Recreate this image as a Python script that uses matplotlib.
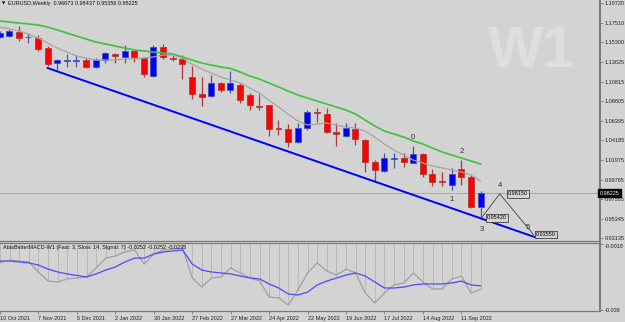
import matplotlib
matplotlib.use("Agg")
import matplotlib.pyplot as plt

# EURUSD weekly candles, 10 Oct 2021 .. 25 Sep 2022
opens = [1.1588, 1.1599, 1.1644, 1.1582, 1.1576, 1.1463, 1.1294, 1.1316, 1.1316, 1.1328,
         1.1249, 1.1328, 1.1396, 1.1362, 1.1429, 1.1350, 1.1147, 1.1475, 1.1350, 1.1339,
         1.1135, 1.0943, 1.0921, 1.1068, 1.0989, 1.1045, 1.0932, 1.0808, 1.0819, 1.0559,
         1.0548, 1.0401, 1.0559, 1.0740, 1.0717, 1.0514, 1.0468, 1.0548, 1.0423, 1.0175,
         1.0073, 1.0214, 1.0220, 1.0163, 1.0265, 1.0039, 0.9960, 0.9915, 1.0096, 1.0005,
         0.96673]
highs = [1.1656, 1.1678, 1.1712, 1.1622, 1.1610, 1.1486, 1.1339, 1.1396, 1.1384, 1.1350,
         1.1350, 1.1418, 1.1407, 1.1497, 1.1441, 1.1362, 1.1497, 1.1509, 1.1384, 1.1384,
         1.1260, 1.1135, 1.1158, 1.1079, 1.1203, 1.1068, 1.0955, 1.0943, 1.0822, 1.0649,
         1.0604, 1.0615, 1.0762, 1.0785, 1.0785, 1.0615, 1.0615, 1.0615, 1.0435, 1.0197,
         1.0276, 1.0276, 1.0276, 1.0355, 1.0276, 1.0096, 1.0062, 1.0107, 1.0197, 1.0028,
         0.98437]
lows = [1.1576, 1.1588, 1.1542, 1.1520, 1.1429, 1.1260, 1.1215, 1.1249, 1.1249, 1.1237,
        1.1237, 1.1294, 1.1294, 1.1294, 1.1305, 1.1135, 1.1135, 1.1339, 1.1316, 1.1113,
        1.0887, 1.0808, 1.0909, 1.0966, 1.0955, 1.0842, 1.0762, 1.0762, 1.0468, 1.0480,
        1.0344, 1.0389, 1.0536, 1.0627, 1.0508, 1.0355, 1.0457, 1.0367, 1.0062, 0.9949,
        1.0062, 1.0107, 1.0118, 1.0160, 1.0005, 0.9903, 0.9903, 0.9858, 0.9915, 0.9650,
        0.95356]
closes = [1.1633, 1.1656, 1.1576, 1.1593, 1.1452, 1.1282, 1.1328, 1.1322, 1.1322, 1.1249,
          1.1328, 1.1407, 1.1373, 1.1429, 1.1362, 1.1169, 1.1475, 1.1362, 1.1339, 1.1282,
          1.0943, 1.0909, 1.1068, 1.0989, 1.1068, 1.0875, 1.0819, 1.0796, 1.0548, 1.0548,
          1.0401, 1.0559, 1.0740, 1.0728, 1.0514, 1.0491, 1.0559, 1.0435, 1.0175, 1.0084,
          1.0220, 1.0220, 1.0175, 1.0265, 1.0039, 0.9949, 0.9949, 1.0039, 1.0005, 0.9667,
          0.98225]

# moving averages drawn on the price chart
ma_slow = [1.1769, 1.1757, 1.1746, 1.1735, 1.1723, 1.1701, 1.1667, 1.1633, 1.1599, 1.1565,
           1.1531, 1.1509, 1.1486, 1.1463, 1.1441, 1.1429, 1.1418, 1.1407, 1.1396, 1.1362,
           1.1328, 1.1294, 1.1271, 1.1249, 1.1232, 1.1192, 1.1147, 1.1113, 1.1068, 1.1023,
           1.0977, 1.0932, 1.0898, 1.0864, 1.0830, 1.0796, 1.0762, 1.0717, 1.0649, 1.0582,
           1.0525, 1.0491, 1.0457, 1.0412, 1.0378, 1.0333, 1.0288, 1.0254, 1.0220, 1.0186,
           1.0152]
ma_fast = [1.1701, 1.1678, 1.1656, 1.1622, 1.1576, 1.1520, 1.1463, 1.1418, 1.1373, 1.1350,
           1.1328, 1.1328, 1.1328, 1.1339, 1.1339, 1.1350, 1.1362, 1.1384, 1.1384, 1.1350,
           1.1282, 1.1226, 1.1181, 1.1135, 1.1102, 1.1068, 1.1011, 1.0955, 1.0875, 1.0796,
           1.0717, 1.0638, 1.0593, 1.0604, 1.0615, 1.0593, 1.0570, 1.0559, 1.0525, 1.0457,
           1.0378, 1.0310, 1.0254, 1.0197, 1.0163, 1.0130, 1.0107, 1.0084, 1.0062, 1.0028,
           0.9960]

# AtasBetterMACD (3, 14, 7)
macd = [-0.0116, -0.0101, -0.0106, -0.0111, -0.0163, -0.0210, -0.0215, -0.0199, -0.0194, -0.0189,
        -0.0142, -0.0091, -0.0080, -0.0059, -0.0049, -0.0122, -0.0070, -0.0049, -0.0044, -0.0039,
        -0.0194, -0.0241, -0.0194, -0.0189, -0.0142, -0.0168, -0.0194, -0.0210, -0.0293, -0.0298,
        -0.0334, -0.0256, -0.0168, -0.0116, -0.0158, -0.0179, -0.0148, -0.0168, -0.0272, -0.0324,
        -0.0272, -0.0230, -0.0220, -0.0168, -0.0215, -0.0251, -0.0251, -0.0199, -0.0184, -0.0272,
        -0.0252]
signal = [-0.0106, -0.0106, -0.0111, -0.0116, -0.0127, -0.0148, -0.0163, -0.0173, -0.0181, -0.0189,
          -0.0173, -0.0153, -0.0137, -0.0111, -0.0091, -0.0091, -0.0070, -0.0059, -0.0054, -0.0049,
          -0.0122, -0.0153, -0.0163, -0.0168, -0.0173, -0.0184, -0.0194, -0.0199, -0.0225, -0.0246,
          -0.0277, -0.0282, -0.0267, -0.0230, -0.0210, -0.0194, -0.0179, -0.0168, -0.0184, -0.0215,
          -0.0246, -0.0246, -0.0241, -0.0230, -0.0225, -0.0225, -0.0225, -0.0220, -0.0210, -0.0230,
          -0.0235]

# channel line and wave count
trend_idx = [5.0, 55.9]
trend_price = [1.1237, 0.9316]
zz_idx = [50.1, 52.0, 55.5]
zz_price = [0.95420, 0.98150, 0.93550]
wave_labels = ["0", "1", "2", "3", "4", "5"]
wave_idx = [43, 47, 48, 50.1, 52.0, 55.5]
wave_price = [1.0355, 0.9858, 1.0197, 0.95420, 0.98150, 0.93550]

price_ticks = [1.19720, 1.17510, 1.15300, 1.13025, 1.10815, 1.08605, 1.06395,
               1.04185, 1.01975, 0.99765, 0.97555, 0.95345, 0.93135]
macd_ticks = [-0.0018, -0.036]
date_idx = [0, 4, 8, 12, 16, 20, 24, 28, 32, 36, 40, 44, 48]
date_labels = ["10 Oct 2021", "7 Nov 2021", "5 Dec 2021", "2 Jan 2022", "30 Jan 2022",
               "27 Feb 2022", "27 Mar 2022", "24 Apr 2022", "22 May 2022", "19 Jun 2022",
               "17 Jul 2022", "14 Aug 2022", "11 Sep 2022"]

BG = "#d3d3d3"
AX = "#7a7a7a"
FONT = "Liberation Sans"
plt.rcParams["font.family"] = [FONT, "DejaVu Sans"]

W, H = 625, 322
fig = plt.figure(figsize=(W / 100, H / 100), dpi=100, facecolor=BG)


def px_axes(x0, y0, x1, y1):
    return fig.add_axes([x0 / W, 1 - y1 / H, (x1 - x0) / W, (y1 - y0) / H], facecolor=BG)


ax = px_axes(0, 0, 600, 241)
ax2 = px_axes(0, 243, 600, 311)
xlim = (0.05, 62.42)
ax.set_xlim(*xlim)
ax2.set_xlim(*xlim)
ax.set_ylim(0.92816, 1.20059)
ax2.set_ylim(-0.03651, -0.00128)

n = len(closes)
idx = list(range(n))

# candles
for i in idx:
    o, h, l, c = opens[i], highs[i], lows[i], closes[i]
    up = c >= o
    body_c = "#0000ff" if up else "#ff0000"
    edge_c = "#4a55a8" if up else "#b03a3a"
    ax.vlines(i, l, h, color=edge_c, lw=0.9, zorder=2)
    ax.bar(i, max(abs(c - o), 0.0008), bottom=min(o, c), width=0.62,
           color=body_c, edgecolor=edge_c, lw=0.6, zorder=3)

ax.plot(idx, ma_slow, color="#3cc23c", lw=1.2, zorder=4)
ax.plot(idx, ma_fast, color="#a4a4a4", lw=0.9, zorder=4)
ax.plot(trend_idx, trend_price, color="#0000ff", lw=1.4, zorder=4)
ax.axhline(closes[-1], color="#a8a8a8", lw=0.7, zorder=1)

ax.plot(zz_idx, zz_price, color="#404040", lw=0.6, zorder=5)
offsets = [(0, 6), (0, -7), (0, 6), (0, -8), (0, 6), (-4, 5)]
for lab, xi, yp, off in zip(wave_labels, wave_idx, wave_price, offsets):
    ax.annotate(lab, (xi, yp), xytext=off, textcoords="offset points",
                ha="center", va="center", fontsize=5.5, color="#303030", zorder=6)
box_off = [(4, 0), (6, 0), (2, 0)]
for xi, yp, off in zip(zz_idx, zz_price, box_off):
    ax.annotate(f"{yp:.5f}", (xi, yp), xytext=off, textcoords="offset points",
                ha="left", va="center", fontsize=4, color="black", zorder=7,
                bbox=dict(boxstyle="square,pad=0.25", fc=BG, ec="#404040", lw=0.6))

# price axis
ax.set_yticks(price_ticks)
ax.set_yticklabels([f"{p:.5f}" for p in price_ticks])
ax.yaxis.tick_right()
ax.tick_params(axis="y", length=2, width=0.6, pad=1.5, labelsize=4, colors=AX, labelcolor="#222222")
ax.set_xticks([])
for s in ["left", "top"]:
    ax.spines[s].set_visible(False)
ax.spines["right"].set_color(AX)
ax.spines["right"].set_linewidth(1.4)
ax.spines["bottom"].set_color(AX)
ax.spines["bottom"].set_linewidth(0.9)

ax.text(1.0, closes[-1], f"{closes[-1]:.5f}", transform=ax.get_yaxis_transform(),
        ha="left", va="center", fontsize=4, color="white", zorder=8, clip_on=False,
        bbox=dict(boxstyle="square,pad=0.3", fc="black", ec="black"))

# MACD panel
ax2.vlines(idx, 0, macd, color="#b4b4b4", lw=0.6, zorder=2)
ax2.plot(idx, macd, color="#a0a0a0", lw=0.9, zorder=3)
ax2.plot(idx, signal, color="#4a4aff", lw=0.9, zorder=4)
ax2.set_yticks(macd_ticks)
ax2.set_yticklabels([f"{v:g}" for v in macd_ticks])
ax2.yaxis.tick_right()
ax2.tick_params(axis="y", length=2, width=0.6, pad=1.5, labelsize=4, colors=AX, labelcolor="#222222")
ytl = ax2.get_yticklabels()
ytl[0].set_va("top")
ax2.set_xticks(date_idx)
ax2.set_xticklabels(date_labels, ha="left")
ax2.tick_params(axis="x", length=2.5, width=0.6, pad=1, labelsize=4, colors=AX, labelcolor="#222222")
ax2.spines["left"].set_visible(False)
for s in ["top", "right", "bottom"]:
    ax2.spines[s].set_color(AX)
    ax2.spines[s].set_linewidth(0.9)
ax2.spines["right"].set_linewidth(1.4)

# header texts and watermark
fig.text(2 / W, 1 - 3.5 / H, "\u25bc", fontsize=3, color="black", va="center",
         family="DejaVu Sans")
fig.text(8 / W, 1 - 3.5 / H, "EURUSD,Weekly  0.96673 0.98437 0.95356 0.98225",
         fontsize=4, color="#111111", va="center")
fig.text(3 / W, 1 - 248 / H,
         "AtasBetterMACD-W1 (Fast: 3, Slow: 14, Signal: 7) -0.0252 -0.0252 -0.0235",
         fontsize=4, color="#111111", va="center")
fig.text(532 / W, 1 - 52 / H, "W1", fontsize=42, fontweight="bold", color="#dedede",
         ha="center", va="center", zorder=0)

fig.savefig("out.png", dpi=100, facecolor=BG)
